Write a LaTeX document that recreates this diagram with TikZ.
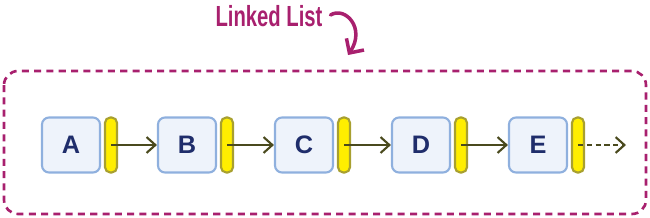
\documentclass[tikz,border=0pt]{standalone}
\usepackage{fontspec}
\setsansfont{Liberation Sans}
\usetikzlibrary{arrows.meta}
\definecolor{frame}{HTML}{A8206E}
\definecolor{boxfill}{HTML}{EEF3FB}
\definecolor{boxline}{HTML}{8FB0DE}
\definecolor{boxtext}{HTML}{1F2D6B}
\definecolor{pillfill}{HTML}{FFEE00}
\definecolor{pillline}{HTML}{A8A030}
\definecolor{link}{HTML}{4A4A1E}
\tikzset{
  item/.style={draw=boxline, fill=boxfill, line width=1.2pt, rounded corners=4pt,
    minimum width=1.16cm, minimum height=1.1cm, inner sep=0pt,
    font=\sffamily\bfseries\Large, text=boxtext},
  pointer/.style={draw=pillline, fill=pillfill, line width=1.2pt, rounded corners=3pt,
    minimum width=0.24cm, minimum height=1.1cm, inner sep=0pt},
  nextarrow/.style={draw=link, line width=1.2pt, -{Straight Barb[length=5pt,width=9pt]}}
}
\begin{document}
\begin{tikzpicture}[x=0.02cm,y=-0.02cm]
\useasboundingbox (0,0) rectangle (650,217);

\draw[frame, line width=1.5pt, dashed, dash pattern=on 4pt off 3pt, rounded corners=8pt]
(4,71) rectangle (646,214);

\node[text=frame, font=\sffamily\bfseries\Large, inner sep=1pt] (title) at (269,16)
  {\scalebox{0.8}[1.15]{Linked List}};
\draw[frame, line width=2pt, line cap=round, -{Straight Barb[length=6pt,width=12pt]}]
(title.east) ++(6,-1) .. controls (345,6) and (366,28) .. (348,55);

\foreach \name/\x in {A/71,B/187,C/304,D/421,E/538} {
  \node[item] (\name) at (\x,145) {\name};
  \node[pointer] (p\name) at (\x+40,145) {};
}

\draw[nextarrow] (pA.center) -- (B.west);
\draw[nextarrow] (pB.center) -- (C.west);
\draw[nextarrow] (pC.center) -- (D.west);
\draw[nextarrow] (pD.center) -- (E.west);
\coordinate (tail) at (626,145);
\draw[nextarrow, dashed, dash pattern=on 3pt off 2pt] (pE.center) -- (tail);
\end{tikzpicture}
\end{document}
